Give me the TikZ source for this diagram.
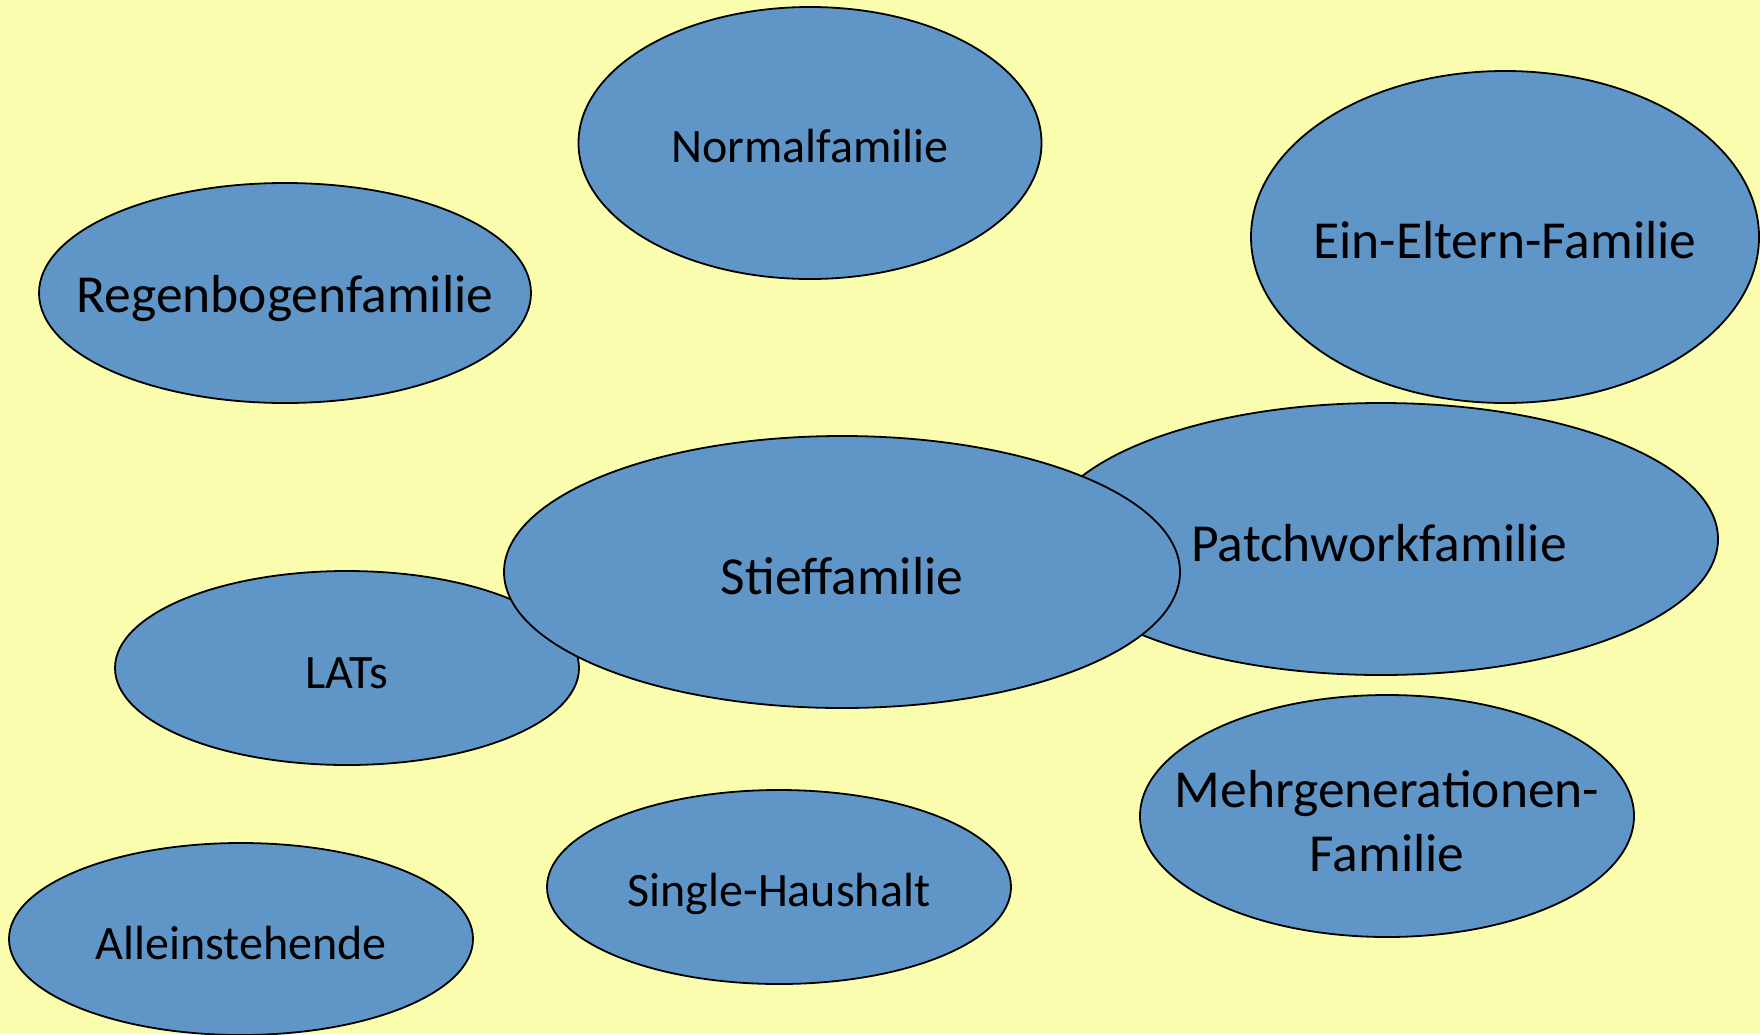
\documentclass[tikz,border=0pt]{standalone}
\usepackage{fontspec}
\setmainfont{Carlito}
\usetikzlibrary{shapes.geometric}
\definecolor{bgyellow}{HTML}{FAFCAE}
\definecolor{blobblue}{HTML}{6095C8}
\tikzset{
  blob/.style={ellipse, draw=black, line width=1.8pt, fill=blobblue, inner sep=0pt},
  bigtxt/.style={font=\fontsize{53.5}{64}\selectfont, text=black, align=center, inner sep=0pt},
  smalltxt/.style={font=\fontsize{48}{56}\selectfont, text=black, align=center, inner sep=0pt}
}
\begin{document}
\begin{tikzpicture}[x=1pt,y=-1pt]
\fill[bgyellow] (0,0) rectangle (1760,1034);
\useasboundingbox (0,0) rectangle (1760,1034);
% ellipses
\node[blob, minimum width=463, minimum height=272] (nf) at (810,143) {};
\node[blob, minimum width=508, minimum height=332] (ee) at (1505,237) {};
\node[blob, minimum width=492, minimum height=220] (rb) at (285,293) {};
\node[blob, minimum width=674, minimum height=272] (pw) at (1381,539) {};
\node[blob, minimum width=464, minimum height=194] (lat) at (347,668) {};
\node[blob, minimum width=676, minimum height=272] (sf) at (842,572) {};
\node[blob, minimum width=464, minimum height=194] (sh) at (779,887) {};
\node[blob, minimum width=494, minimum height=242] (mg) at (1387,816) {};
\node[blob, minimum width=464, minimum height=192] (al) at (241,939) {};
% texts
\node[smalltxt] (tnf) at ([yshift=-3]nf.center) {Normalfamilie};
\node[bigtxt] (tee) at ([yshift=-3]ee.center) {Ein-Eltern-Familie};
\node[bigtxt] (trb) at ([yshift=-6]rb.center) {Regenbogenfamilie};
\node[bigtxt] (tpw) at (1379,543) {Patchworkfamilie};
\node[smalltxt] (tlat) at ([yshift=-5]lat.center) {LATs};
\node[bigtxt] (tsf) at ([yshift=-4]sf.center) {Stieffamilie};
\node[smalltxt] (tsh) at ([yshift=-7]sh.center) {Single-Haushalt};
\node[bigtxt] (tmg) at ([yshift=-5]mg.center) {Mehrgenerationen-\\Familie};
\node[smalltxt] (tal) at ([yshift=-4]al.center) {Alleinstehende};
\end{tikzpicture}
\end{document}
